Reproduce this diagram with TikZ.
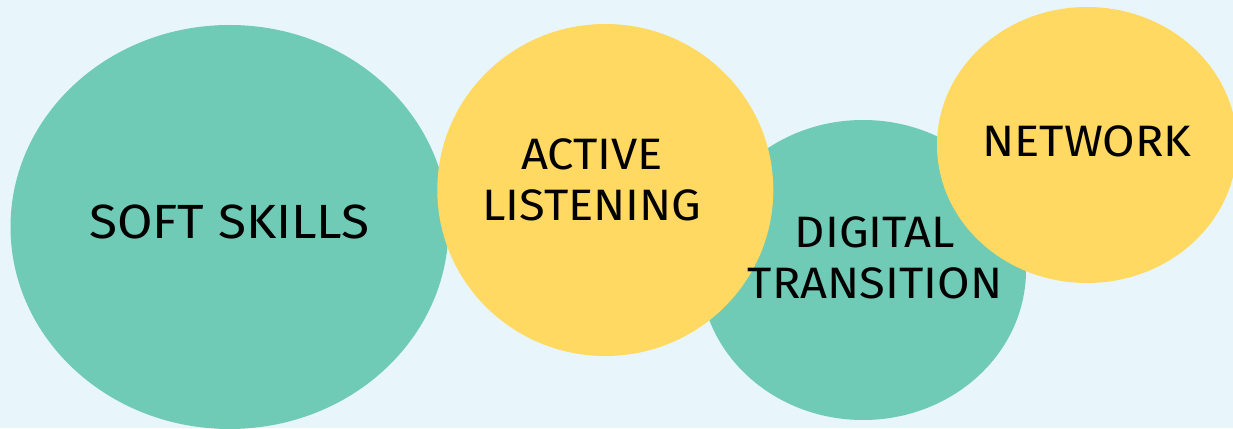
\documentclass[tikz,border=0pt]{standalone}
\usepackage{fontspec}
\setmainfont{Fira Sans}[FakeStretch=1.07]
\usetikzlibrary{shapes.geometric}

\definecolor{bgblue}{HTML}{E8F5FA}
\definecolor{mint}{HTML}{6FCBB6}
\definecolor{sun}{HTML}{FFD961}

\begin{document}
\begin{tikzpicture}[x=1pt, y=1pt,
    blob/.style={ellipse, inner sep=0pt, draw=none},
    mintblob/.style={blob, fill=mint},
    sunblob/.style={blob, fill=sun},
    word/.style={inner sep=0pt, align=center, text=black, font=\fontsize{44}{51}\selectfont}]

\useasboundingbox (0,0) rectangle (1233,428);
\clip (0,0) rectangle (1233,428);
\fill[bgblue] (0,0) rectangle (1233,428);

% teal ones first, yellow ones on top
\node[mintblob, minimum width=438, minimum height=404] (soft) at (229.5,201) {};
\node[mintblob, minimum width=326, minimum height=300] (digital) at (863,158) {};
\node[sunblob, minimum width=336, minimum height=332] (active) at (605.3,238) {};
\node[sunblob, minimum width=300, minimum height=276] (network) at (1087,283) {};

\node[word, font=\fontsize{48}{51}\selectfont] (softtxt) at (229.5,206.5) {SOFT SKILLS};
\node[word] (activetxt) at (592,248.5) {ACTIVE\\LISTENING};
\node[word] (digitaltxt) at (875,170.5) {DIGITAL\\TRANSITION};
\node[word] (networktxt) at (1087,286.5) {NETWORK};

\end{tikzpicture}
\end{document}
